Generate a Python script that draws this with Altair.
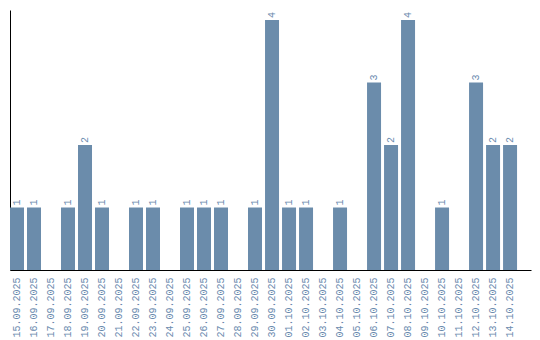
import altair as alt
import pandas as pd

dates = ["15.09.2025", "16.09.2025", "17.09.2025", "18.09.2025", "19.09.2025",
         "20.09.2025", "21.09.2025", "22.09.2025", "23.09.2025", "24.09.2025",
         "25.09.2025", "26.09.2025", "27.09.2025", "28.09.2025", "29.09.2025",
         "30.09.2025", "01.10.2025", "02.10.2025", "03.10.2025", "04.10.2025",
         "05.10.2025", "06.10.2025", "07.10.2025", "08.10.2025", "09.10.2025",
         "10.10.2025", "11.10.2025", "12.10.2025", "13.10.2025", "14.10.2025"]
counts = [1, 1, 0, 1, 2, 1, 0, 1, 1, 0,
          1, 1, 1, 0, 1, 4, 1, 1, 0, 1,
          0, 3, 2, 4, 0, 1, 0, 3, 2, 2]

df = pd.DataFrame({"date": dates, "count": counts})

BAR = "#6b8cab"
LABEL = "#6a8aae"
FONT = "Liberation Mono"

x = alt.X("date:N", sort=dates, title=None,
          scale=alt.Scale(paddingInner=3/17, paddingOuter=0.41, align=0),
          axis=alt.Axis(labelAngle=270, labelAlign="right", labelBaseline="middle",
                        labelPadding=7, ticks=False, labelColor=LABEL,
                        labelFont=FONT, labelFontSize=10, domainColor="#000000",
                        labelOverlap=False))
y = alt.Y("count:Q", title=None,
          scale=alt.Scale(domain=[0, 4.16], nice=False),
          axis=alt.Axis(labels=False, ticks=False, grid=False, domainColor="#000000"))

bars = alt.Chart(df).mark_bar(color=BAR).encode(x=x, y=y)
text = alt.Chart(df).transform_filter("datum.count > 0").mark_text(
    angle=270, align="left", baseline="middle", dx=2, color=LABEL,
    font=FONT, fontSize=10
).encode(x=alt.X("date:N", sort=dates), y="count:Q", text="count:Q")

chart = alt.layer(bars, text).properties(
    width=521, height=260,
    autosize=alt.AutoSizeParams(type="none"),
    padding={"left": 10, "top": 10, "right": 9, "bottom": 70},
).configure_view(stroke=None)

chart.save("out.html", embed_options={"renderer": "svg", "actions": False})
